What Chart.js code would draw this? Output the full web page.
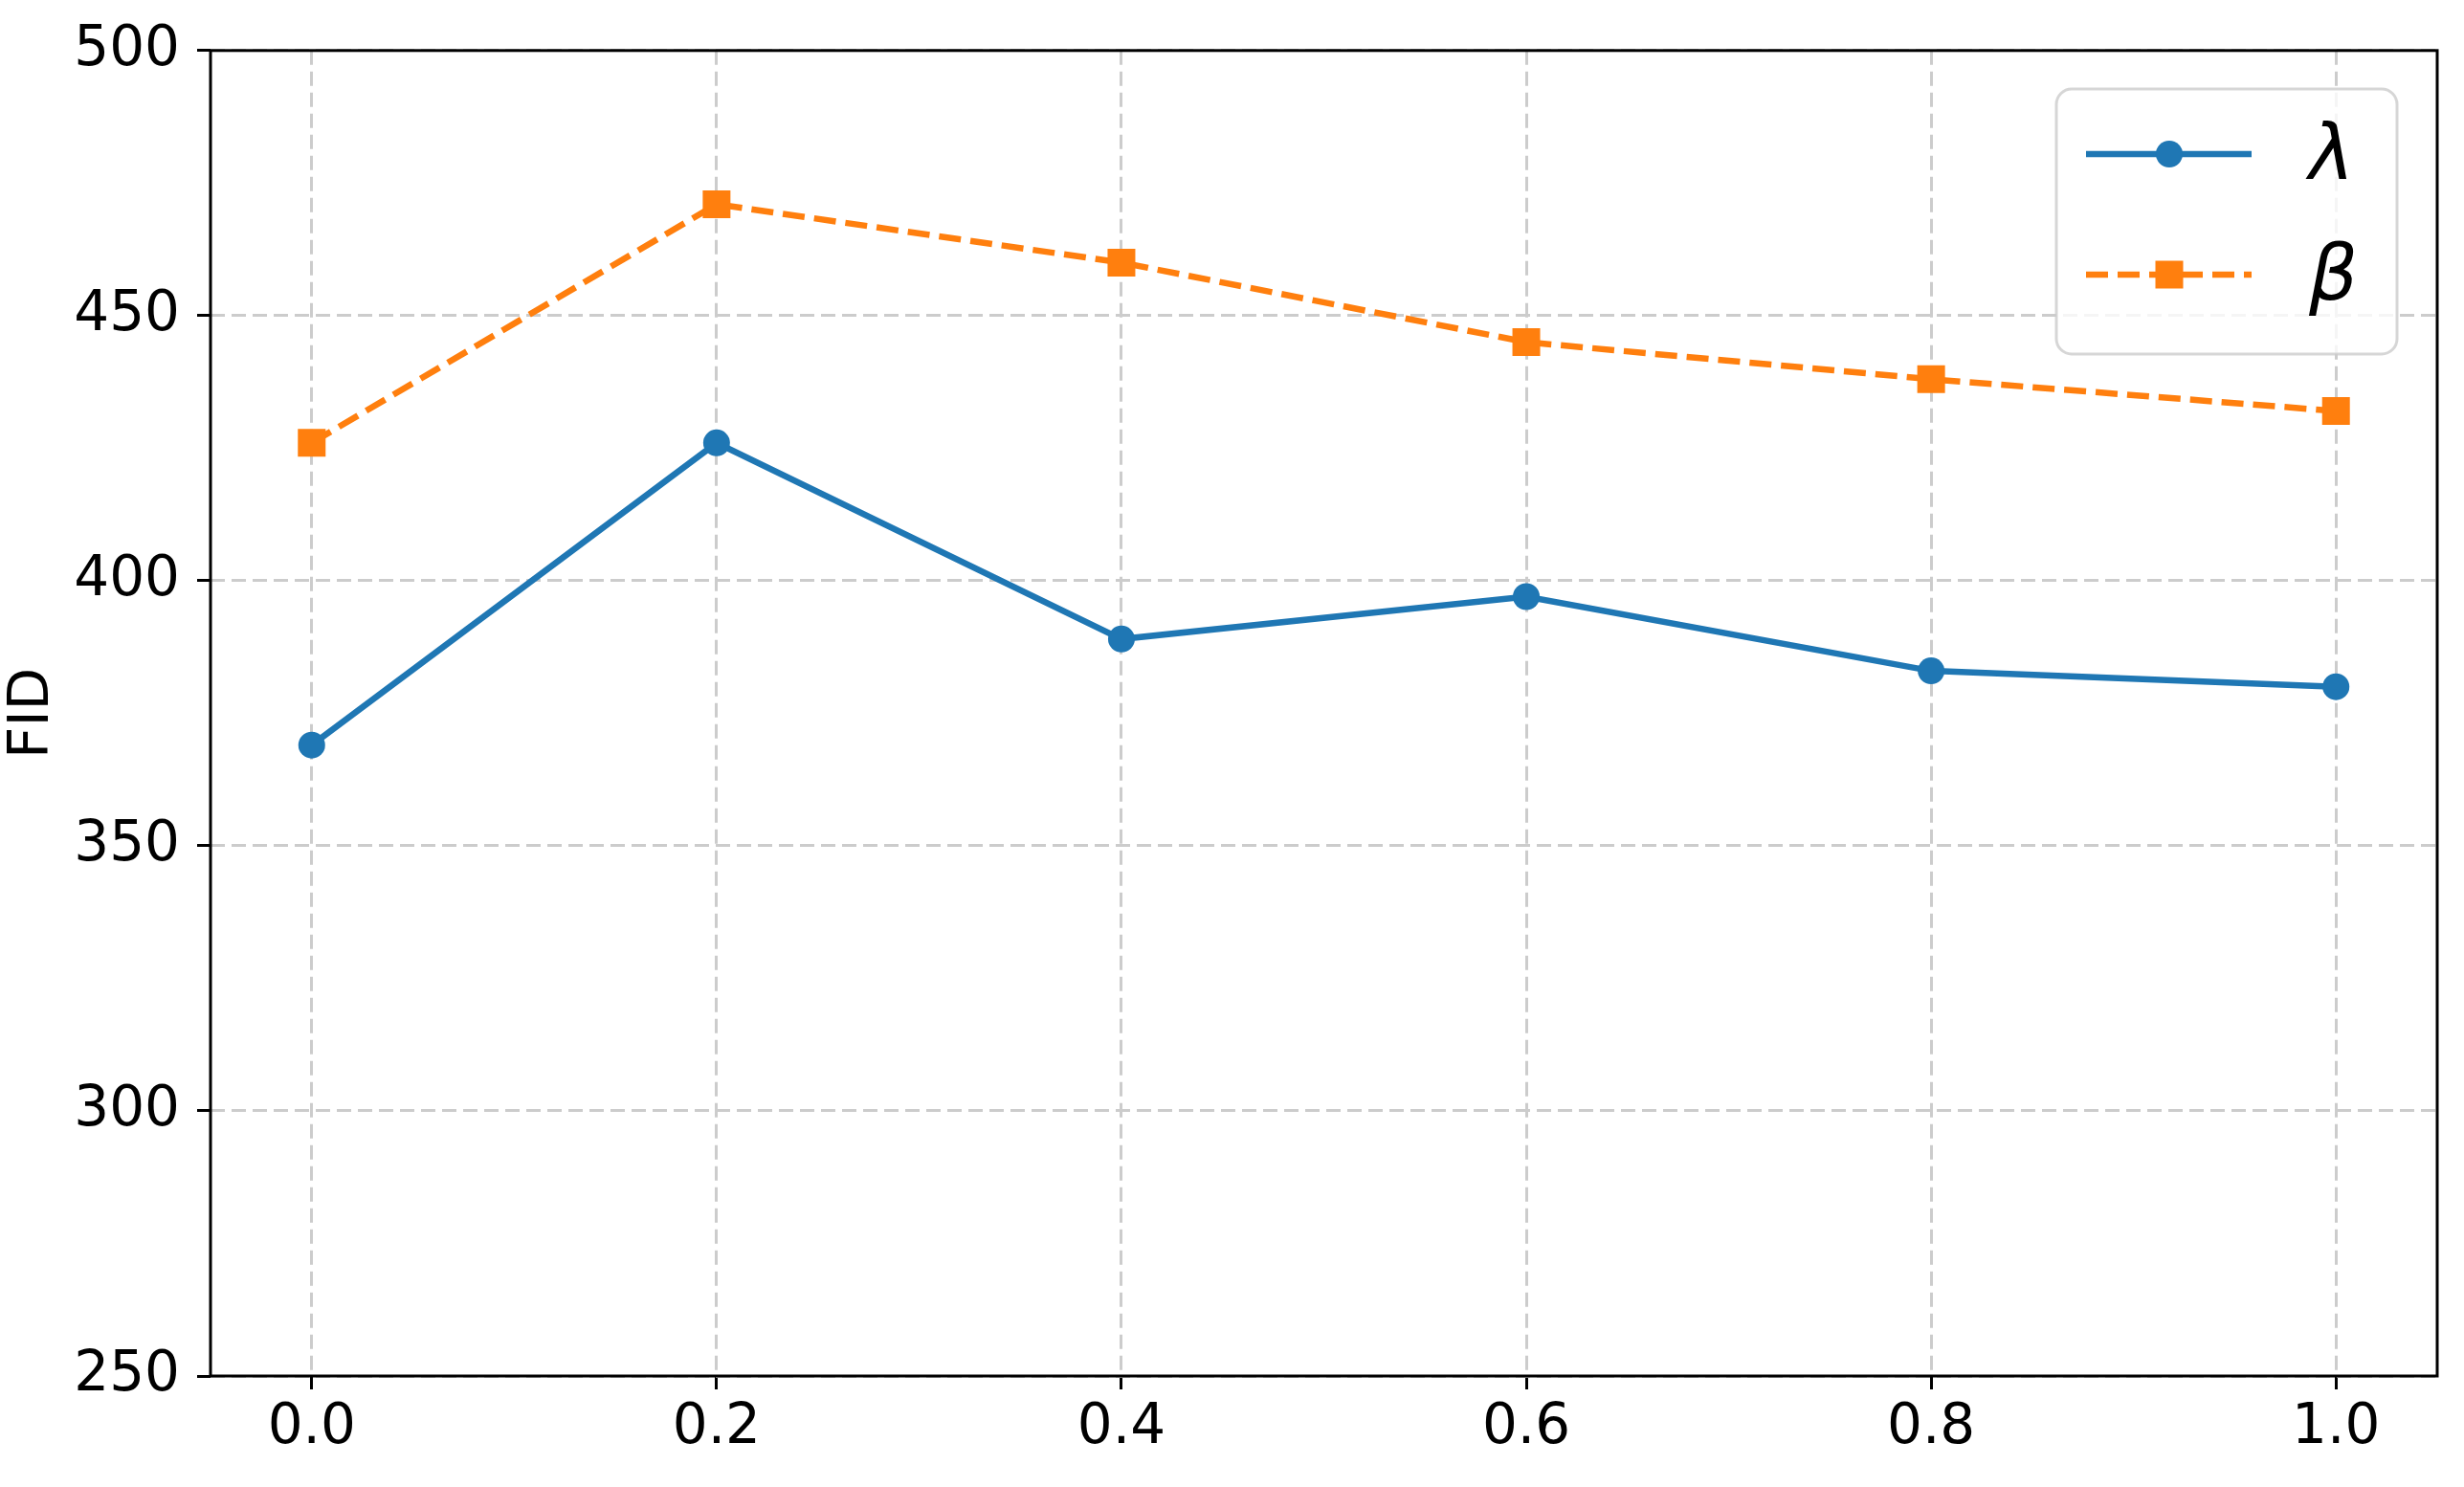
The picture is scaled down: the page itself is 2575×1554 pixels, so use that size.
<!DOCTYPE html>
<html>
<head>
<meta charset="utf-8">
<script src="https://cdn.jsdelivr.net/npm/chart.js@4"></script>
<style>
  html, body { margin: 0; padding: 0; background: #fff; }
  canvas { display: block; }
</style>
</head>
<body>
<canvas id="fidChart" width="2575" height="1554"></canvas>
<script>
// FID vs. weight, lambda and beta sweeps

const xValues = [0.0, 0.2, 0.4, 0.6, 0.8, 1.0];
const lambdaFID = [369, 426, 389, 397, 383, 380];
const betaFID = [426, 471, 460, 445, 438, 432];
const xTicks = [0.0, 0.2, 0.4, 0.6, 0.8, 1.0];
const yTicks = [250, 300, 350, 400, 450, 500];
const seriesLabels = ['λ', 'β'];

const BLUE = '#1f77b4';
const ORANGE = '#ff7f0e';
const FONT = "'DejaVu Sans', sans-serif";

function toPoints(ys) {
    return xValues.map((x, i) => ({ x: x, y: ys[i] }));
}

// Box around the plot area (all four spines)
const framePlugin = {
    id: 'frame',
    afterDatasetsDraw(chart) {
        const { ctx, chartArea: a } = chart;
        ctx.save();
        ctx.strokeStyle = '#000';
        ctx.lineWidth = 3;
        ctx.strokeRect(a.left, a.top, a.right - a.left, a.bottom - a.top);
        ctx.restore();
    }
};

// Matplotlib-style legend: line with the marker in the middle
const legendPlugin = {
    id: 'mplLegend',
    afterDraw(chart) {
        const ctx = chart.ctx;
        const box = { x: 2149, y: 93, w: 356, h: 277, r: 16 };
        ctx.save();
        ctx.beginPath();
        ctx.roundRect(box.x, box.y, box.w, box.h, box.r);
        ctx.fillStyle = 'rgba(255,255,255,0.8)';
        ctx.fill();
        ctx.strokeStyle = 'rgba(204,204,204,0.8)';
        ctx.lineWidth = 3;
        ctx.stroke();

        const rows = [161, 287];
        chart.data.datasets.forEach((ds, i) => {
            const y = rows[i];
            ctx.strokeStyle = ds.borderColor;
            ctx.lineWidth = ds.borderWidth;
            ctx.setLineDash(ds.borderDash || []);
            ctx.beginPath();
            ctx.moveTo(2180, y);
            ctx.lineTo(2353, y);
            ctx.stroke();
            ctx.setLineDash([]);
            ctx.fillStyle = ds.pointBackgroundColor;
            ctx.beginPath();
            if (ds.pointStyle === 'rect') {
                ctx.rect(2267 - 14.5, y - 14.5, 29, 29);
            } else {
                ctx.arc(2267, y, 14, 0, Math.PI * 2);
            }
            ctx.fill();

            ctx.fillStyle = '#000';
            ctx.font = 'italic 80px ' + FONT;
            ctx.textBaseline = 'alphabetic';
            ctx.textAlign = 'left';
            ctx.fillText(ds.label, 2413, y + 26);
        });
        ctx.restore();
    }
};

const gridOpts = {
    color: '#cccccc',
    lineWidth: 3,
    tickLength: 14,
    tickColor: '#000',
    tickWidth: 3,
    tickBorderDash: []
};

const ctx = document.getElementById('fidChart').getContext('2d');
const chart = new Chart(ctx, {
    type: 'line',
    data: {
        datasets: [
            {
                label: seriesLabels[0],
                data: toPoints(lambdaFID),
                borderColor: BLUE,
                borderWidth: 6.5,
                pointStyle: 'circle',
                pointRadius: 14,
                pointBackgroundColor: BLUE,
                pointBorderWidth: 0,
                tension: 0
            },
            {
                label: seriesLabels[1],
                data: toPoints(betaFID),
                borderColor: ORANGE,
                borderWidth: 6.5,
                borderDash: [23, 10],
                pointStyle: 'rect',
                pointRadius: 20.5,
                pointBackgroundColor: ORANGE,
                pointBorderWidth: 0,
                tension: 0
            }
        ]
    },
    options: {
        responsive: false,
        devicePixelRatio: 1,
        animation: false,
        layout: { padding: { top: 52, right: 28, left: 0, bottom: 0 } },
        plugins: {
            legend: { display: false },
            tooltip: { enabled: false }
        },
        scales: {
            x: {
                type: 'linear',
                min: -0.05,
                max: 1.05,
                afterBuildTicks: (scale) => {
                    scale.ticks = xTicks.map(v => ({ value: v }));
                },
                afterFit: (scale) => { scale.height = 116; },
                ticks: {
                    callback: (v) => v.toFixed(1),
                    font: { family: FONT, size: 58 },
                    color: '#000',
                    padding: 6,
                    maxRotation: 0
                },
                grid: gridOpts,
                border: { display: false, dash: [15, 7] }
            },
            y: {
                min: 250,
                max: 500,
                afterBuildTicks: (scale) => {
                    scale.ticks = yTicks.map(v => ({ value: v }));
                },
                afterFit: (scale) => { scale.width = 220; },
                ticks: {
                    font: { family: FONT, size: 58 },
                    color: '#000',
                    padding: 18
                },
                grid: gridOpts,
                border: { display: false, dash: [15, 7] },
                title: {
                    display: true,
                    text: 'FID',
                    font: { family: FONT, size: 58 },
                    color: '#000',
                    padding: 0
                }
            }
        }
    },
    plugins: [framePlugin, legendPlugin]
});
</script>
</body>
</html>
